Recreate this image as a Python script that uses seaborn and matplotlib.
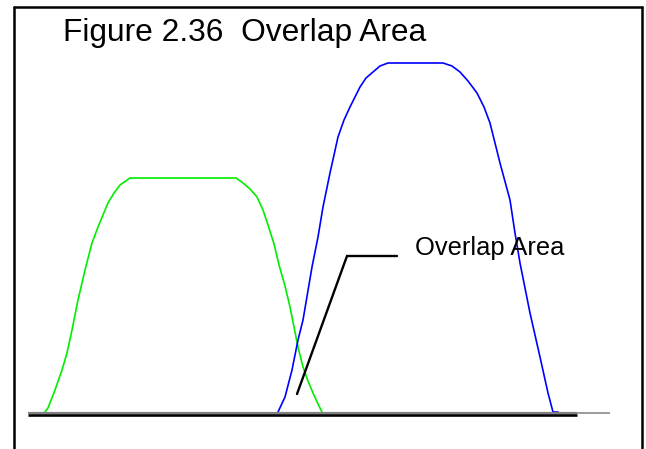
import matplotlib
matplotlib.use("Agg")
import matplotlib.pyplot as plt
from matplotlib.lines import Line2D
import seaborn as sns
import pandas as pd

# ---- data (x position, height above baseline) ----
green_x = [45, 48, 55, 62, 67, 72, 78, 85, 92, 98, 108, 114, 120, 130, 236, 243, 250, 257,
           263, 268, 274, 279, 285, 290, 298, 303, 308, 313, 318, 322]
green_y = [0, 4, 22, 42, 59, 82, 112, 142, 169, 185, 209, 219, 227, 234, 234, 229, 223, 215,
           202, 187, 168, 147, 126, 105, 65, 45, 31, 19, 8, 0]

blue_x = [278, 285, 292, 298, 303, 312, 318, 323, 330, 338, 344, 350, 360, 366, 373, 380,
          388, 443, 452, 460, 468, 477, 484, 490, 500, 510, 515, 520, 530, 540, 548, 553, 558]
blue_y = [0, 15, 42, 72, 92, 145, 175, 205, 239, 275, 292, 305, 325, 334, 340, 346,
          349, 349, 346, 340, 331, 319, 305, 289, 249, 212, 179, 149, 99, 55, 19, 0, 0]

leader_x = [297, 347, 397]
leader_y = [18, 156, 156]

title_text = "Figure 2.36  Overlap Area"
label_text = "Overlap Area"

sns.set_theme(style="white")
plt.rcParams['font.family'] = ['Liberation Sans', 'DejaVu Sans']

fig = plt.figure(figsize=(6.46, 4.49), dpi=100)
ax = fig.add_axes([0, 0, 1, 1])
ax.set_xlim(0, 646)
ax.set_ylim(-37, 412)
ax.set_axis_off()

gdf = pd.DataFrame({"x": green_x, "y": green_y})
bdf = pd.DataFrame({"x": blue_x, "y": blue_y})
sns.lineplot(data=gdf, x="x", y="y", sort=False, color="#00ee00", lw=1.2, ax=ax)
sns.lineplot(data=bdf, x="x", y="y", sort=False, color="#0000ff", lw=1.2, ax=ax)

# baseline: grey line and thicker black line underneath
ax.plot([28, 610], [-0.8, -0.8], color="#808080", lw=1.1, solid_capstyle="butt")
ax.plot([28, 577], [-1.2, -1.2], color="#808080", lw=1.6, solid_capstyle="butt")
ax.plot([28, 577], [-3.0, -3.0], color="black", lw=1.9, solid_capstyle="butt")

# leader line
ax.plot(leader_x, leader_y, color="black", lw=1.7, solid_joinstyle="miter")

ax.text(63, 371, title_text, fontsize=22.9, ha="left", va="baseline", color="black")
ax.text(415, 157, label_text, fontsize=18.4, ha="left", va="baseline", color="black")

# frame border (left, top, right)
W, H = 646, 449
fig.add_artist(Line2D([14 / W, 14 / W], [0, 1 - 7 / H], transform=fig.transFigure,
                      color="black", lw=1.8))
fig.add_artist(Line2D([14 / W, 642 / W], [1 - 7 / H, 1 - 7 / H], transform=fig.transFigure,
                      color="black", lw=1.8))
fig.add_artist(Line2D([642 / W, 642 / W], [1 - 7 / H, 0], transform=fig.transFigure,
                      color="black", lw=1.8))

fig.savefig("out.png", dpi=100)
